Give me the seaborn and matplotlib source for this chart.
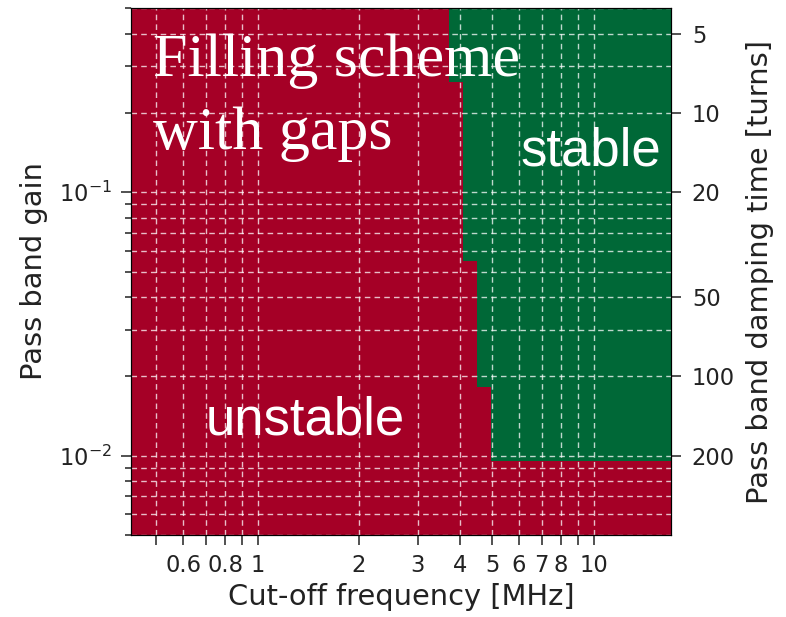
import numpy as np
import pandas as pd
import matplotlib
matplotlib.use("Agg")
import matplotlib.pyplot as plt
from matplotlib.colors import ListedColormap
from matplotlib.ticker import FixedLocator, FixedFormatter, NullFormatter, NullLocator, LogLocator
import seaborn as sns

# ---- scan grid (cell ranges of the stability scan) ----
freq_min_MHz, freq_max_MHz, n_freq = 0.42, 17.0, 39
gain_min, gain_max, n_gain = 0.005, 0.5, 50

# ---- stability boundary ----
# for gain >= band_gain_low[i], the beam is stable when cut-off >= band_min_freq_MHz[i]
band_gain_low = [0.26, 0.054, 0.018, 0.0095]
band_min_freq_MHz = [3.74, 4.10, 4.51, 4.97]

# ---- ticks ----
x_ticks = [0.5, 0.6, 0.7, 0.8, 0.9, 1, 2, 3, 4, 5, 6, 7, 8, 9, 10]
x_tick_labels = ['', '0.6', '', '0.8', '', '1', '2', '3', '4', '5', '6', '7', '8', '', '10']
turn_ticks = [5, 10, 20, 50, 100, 200]
turn_tick_labels = ['5', '10', '20', '50', '100', '200']
turns_times_gain = 2.0  # damping time [turns] = 2 / gain

# ---- build the stability table ----
f_edges = np.geomspace(freq_min_MHz, freq_max_MHz, n_freq + 1)
g_edges = np.geomspace(gain_min, gain_max, n_gain + 1)
f_c = np.sqrt(f_edges[:-1] * f_edges[1:])
g_c = np.sqrt(g_edges[:-1] * g_edges[1:])
stable = np.zeros((n_gain, n_freq))
for g_low, f_low in zip(band_gain_low, band_min_freq_MHz):
    stable[np.outer(g_c >= g_low, f_c >= f_low)] = 1
df = pd.DataFrame(stable[::-1], index=g_c[::-1], columns=f_c)

red, green = '#a50026', '#006837'
cmap = ListedColormap([red, green])

TICK_FS = 16.3
LABEL_FS = 20.8
TXT = '#222222'

fig = plt.figure(figsize=(7.86, 6.17), dpi=100)
rect = [131 / 786, 1 - 535 / 617, 540 / 786, 527 / 617]

ax_h = fig.add_axes(rect)
sns.heatmap(df, ax=ax_h, cmap=cmap, vmin=0, vmax=1, cbar=False,
            xticklabels=False, yticklabels=False)
ax_h.set_axis_off()

ax = fig.add_axes(rect, facecolor='none')
ax.set_xscale('log')
ax.set_yscale('log')
ax.set_xlim(freq_min_MHz, freq_max_MHz)
ax.set_ylim(gain_min, gain_max)
ax.xaxis.set_major_locator(FixedLocator(x_ticks))
ax.xaxis.set_major_formatter(FixedFormatter(x_tick_labels))
ax.xaxis.set_minor_locator(NullLocator())
ax.yaxis.set_major_locator(LogLocator(base=10))
ax.yaxis.set_minor_locator(LogLocator(base=10, subs=np.arange(2, 10)))
ax.yaxis.set_minor_formatter(NullFormatter())
ax.grid(True, which='both', color='white', linestyle=(0, (4, 3)), linewidth=1, alpha=0.75)
ax.tick_params(which='both', right=True, direction='out', labelsize=TICK_FS, colors=TXT)
ax.tick_params(which='major', length=7, width=1.1, pad=7)
ax.tick_params(which='minor', length=4, width=1.1)
ax.set_xlabel('Cut-off frequency [MHz]', fontsize=LABEL_FS, color=TXT, labelpad=4)
ax.set_ylabel('Pass band gain', fontsize=LABEL_FS, color=TXT, labelpad=8)
for s in ax.spines.values():
    s.set_color('black')

axr = ax.twinx()
axr.set_yscale('log')
axr.set_ylim(turns_times_gain / gain_min, turns_times_gain / gain_max)
axr.yaxis.set_major_locator(FixedLocator(turn_ticks))
axr.yaxis.set_major_formatter(FixedFormatter(turn_tick_labels))
axr.yaxis.set_minor_locator(NullLocator())
axr.tick_params(which='major', length=7, width=1.1, labelsize=TICK_FS, colors=TXT, pad=8)
axr.set_ylabel('Pass band damping time [turns]', fontsize=LABEL_FS, color=TXT, labelpad=8)

ax.text(0.040, 0.871, 'Filling scheme', transform=ax.transAxes,
        family='Liberation Serif', fontsize=44.7, color='white', va='baseline', ha='left')
ax.text(0.040, 0.7325, 'with gaps', transform=ax.transAxes,
        family='Liberation Serif', fontsize=44.7, color='white', va='baseline', ha='left')
ax.text(0.852, 0.727, 'stable', transform=ax.transAxes, family='Liberation Sans',
        fontsize=38, color='white', va='center', ha='center')
ax.text(0.322, 0.218, 'unstable', transform=ax.transAxes, family='Liberation Sans',
        fontsize=38, color='white', va='center', ha='center')

fig.savefig('out.png', dpi=100)
